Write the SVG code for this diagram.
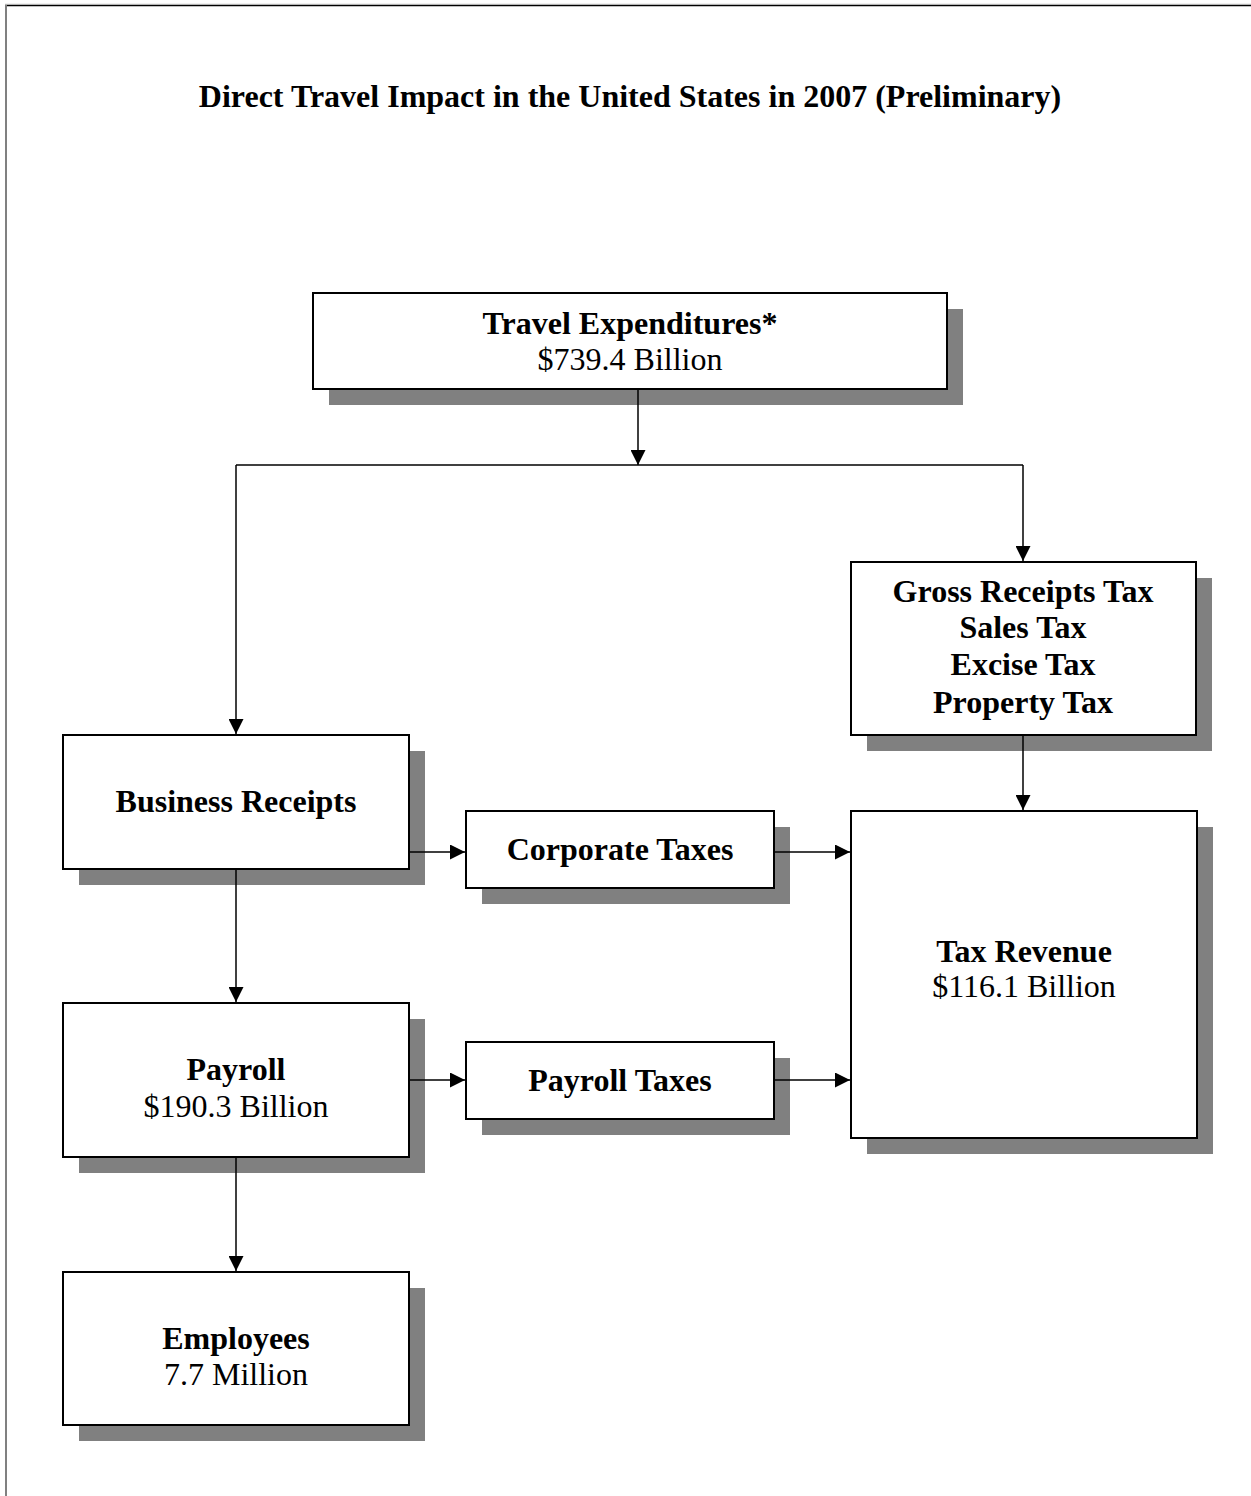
<svg xmlns="http://www.w3.org/2000/svg" width="1251" height="1496" viewBox="0 0 1251 1496">
<defs>
<marker id="arr" markerUnits="userSpaceOnUse" markerWidth="15" markerHeight="15" refX="15" refY="7.5" orient="auto">
<path d="M0,0 L15,7.5 L0,15 Z" fill="#000"/>
</marker>
<style>
.shadow{fill:#808080;}
.box{fill:#fff;stroke:#000;stroke-width:2;}
.b{font-family:"Liberation Serif","Times New Roman",serif;font-size:32px;font-weight:bold;text-anchor:middle;fill:#000;}
.r{font-family:"Liberation Serif","Times New Roman",serif;font-size:32px;text-anchor:middle;fill:#000;}
.c{stroke:#000;stroke-width:1.5;fill:none;}
.ca{stroke:#000;stroke-width:1.5;fill:none;marker-end:url(#arr);}
</style>
</defs>
<rect x="0" y="0" width="1251" height="1496" fill="#fff"/>
<g id="frame">
<line x1="5" y1="4" x2="1251" y2="4" stroke="#e0e0e0" stroke-width="1"/>
<line x1="5" y1="5.5" x2="1251" y2="5.5" stroke="#000" stroke-width="1.5"/>
<line x1="6" y1="5" x2="6" y2="1496" stroke="#808080" stroke-width="2"/>
</g>
<text id="title" class="b" x="630" y="107">Direct Travel Impact in the United States in 2007 (Preliminary)</text>
<g id="travel-expenditures">
<rect class="shadow" x="329" y="309" width="634" height="96"/>
<rect class="box" x="313" y="293" width="634" height="96"/>
<text class="b" x="630" y="334">Travel Expenditures*</text>
<text class="r" x="630" y="370">$739.4 Billion</text>
</g>
<g id="gross-receipts">
<rect class="shadow" x="867" y="578" width="345" height="173"/>
<rect class="box" x="851" y="562" width="345" height="173"/>
<text class="b" x="1023" y="602">Gross Receipts Tax</text>
<text class="b" x="1023" y="638">Sales Tax</text>
<text class="b" x="1023" y="675">Excise Tax</text>
<text class="b" x="1023" y="713">Property Tax</text>
</g>
<g id="business-receipts">
<rect class="shadow" x="79" y="751" width="346" height="134"/>
<rect class="box" x="63" y="735" width="346" height="134"/>
<text class="b" x="236" y="812">Business Receipts</text>
</g>
<g id="corporate-taxes">
<rect class="shadow" x="482" y="827" width="308" height="77"/>
<rect class="box" x="466" y="811" width="308" height="77"/>
<text class="b" x="620" y="860">Corporate Taxes</text>
</g>
<g id="tax-revenue">
<rect class="shadow" x="867" y="827" width="346" height="327"/>
<rect class="box" x="851" y="811" width="346" height="327"/>
<text class="b" x="1024" y="962">Tax Revenue</text>
<text class="r" x="1024" y="997">$116.1 Billion</text>
</g>
<g id="payroll">
<rect class="shadow" x="79" y="1019" width="346" height="154"/>
<rect class="box" x="63" y="1003" width="346" height="154"/>
<text class="b" x="236" y="1080">Payroll</text>
<text class="r" x="236" y="1117">$190.3 Billion</text>
</g>
<g id="payroll-taxes">
<rect class="shadow" x="482" y="1058" width="308" height="77"/>
<rect class="box" x="466" y="1042" width="308" height="77"/>
<text class="b" x="620" y="1091">Payroll Taxes</text>
</g>
<g id="employees">
<rect class="shadow" x="79" y="1288" width="346" height="153"/>
<rect class="box" x="63" y="1272" width="346" height="153"/>
<text class="b" x="236" y="1349">Employees</text>
<text class="r" x="236" y="1385">7.7 Million</text>
</g>
<g id="connectors">
<line class="ca" x1="638" y1="390" x2="638" y2="465"/>
<line class="c" x1="236" y1="465" x2="1023" y2="465"/>
<line class="ca" x1="236" y1="465" x2="236" y2="734"/>
<line class="ca" x1="1023" y1="465" x2="1023" y2="561"/>
<line class="ca" x1="1023" y1="736" x2="1023" y2="810"/>
<line class="ca" x1="410" y1="852" x2="465" y2="852"/>
<line class="ca" x1="775" y1="852" x2="850" y2="852"/>
<line class="ca" x1="236" y1="870" x2="236" y2="1002"/>
<line class="ca" x1="410" y1="1080" x2="465" y2="1080"/>
<line class="ca" x1="775" y1="1080" x2="850" y2="1080"/>
<line class="ca" x1="236" y1="1158" x2="236" y2="1271"/>
</g>
</svg>
